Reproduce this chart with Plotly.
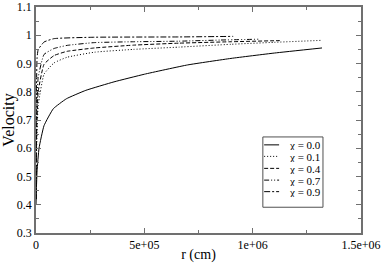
import plotly.graph_objects as go

# chi = 0.0
r_00 = [0, 2e3, 5e3, 1.4e4, 3.7e4, 8e4, 1.4e5, 2.3e5, 3.6e5, 5e5, 7e5, 9e5, 1.1e6, 1.32e6]
v_00 = [0.40, 0.46, 0.52, 0.60, 0.68, 0.74, 0.775, 0.805, 0.835, 0.862, 0.895, 0.918, 0.937, 0.955]
# chi = 0.1
r_01 = [0, 3e3, 1e4, 3.7e4, 8.3e4, 1.43e5, 2.7e5, 4.5e5, 6.6e5, 9e5, 1.1e6, 1.32e6]
v_01 = [0.42, 0.60, 0.75, 0.862, 0.902, 0.922, 0.940, 0.950, 0.958, 0.968, 0.975, 0.982]
# chi = 0.4
r_04 = [0, 3e3, 1e4, 3.7e4, 8.3e4, 1.43e5, 2.7e5, 4.5e5, 6.6e5, 9e5, 1.125e6]
v_04 = [0.42, 0.65, 0.80, 0.897, 0.928, 0.943, 0.955, 0.965, 0.972, 0.977, 0.981]
# chi = 0.7
r_07 = [0, 3e3, 1e4, 3.7e4, 8.3e4, 1.43e5, 2.7e5, 4.5e5, 6.6e5, 8.5e5, 1.03e6]
v_07 = [0.42, 0.70, 0.85, 0.932, 0.953, 0.964, 0.974, 0.977, 0.979, 0.983, 0.986]
# chi = 0.9
r_09 = [0, 2e3, 5e3, 1e4, 3.7e4, 8.3e4, 2.7e5, 6.6e5, 9.1e5]
v_09 = [0.42, 0.80, 0.92, 0.949, 0.976, 0.988, 0.993, 0.994, 0.996]

series_names = ["χ = 0.0", "χ = 0.1", "χ = 0.4", "χ = 0.7", "χ = 0.9"]
x_tickvals = [0, 5e5, 1e6, 1.5e6]
x_ticktext = ["0", "5e+05", "1e+06", "1.5e+06"]
y_tickvals = [0.3, 0.4, 0.5, 0.6, 0.7, 0.8, 0.9, 1.0, 1.1]
y_ticktext = ["0.3", "0.4", "0.5", "0.6", "0.7", "0.8", "0.9", "1", "1.1"]

data = [(r_00, v_00), (r_01, v_01), (r_04, v_04), (r_07, v_07), (r_09, v_09)]
dashes = ["solid", "1px,2px", "4px,2px", "5px,2px,1px,2px,1px,2px", "6px,2px,2px,2px"]

SERIF = "Liberation Serif, Times New Roman, serif"

fig = go.Figure()
for (rx, vy), name, d in zip(data, series_names, dashes):
    fig.add_trace(go.Scatter(x=rx, y=vy, mode="lines", name=name, showlegend=False,
                             line=dict(color="black", width=1, dash=d, shape="spline", smoothing=0.4)))

axis_common = dict(showline=True, linecolor="#707070", linewidth=1.5, mirror="allticks",
                   ticks="inside", ticklen=5, tickcolor="#707070", showgrid=False, zeroline=False,
                   automargin=False, ticklabeloverflow="allow",
                   tickfont=dict(family=SERIF, size=12, color="black"))

fig.update_xaxes(range=[0, 1.5e6], tickvals=x_tickvals, ticktext=x_ticktext,
                 minor=dict(dtick=2.5e5, ticks="inside", ticklen=3, tickcolor="#707070"),
                 title=dict(text="r (cm)", font=dict(family=SERIF, size=14, color="black"), standoff=2),
                 **axis_common)
fig.update_yaxes(range=[0.3, 1.1], tickvals=y_tickvals, ticktext=y_ticktext,
                 minor=dict(dtick=0.05, ticks="inside", ticklen=3, tickcolor="#707070"),
                 title=dict(text="Velocity", font=dict(family=SERIF, size=16, color="black"), standoff=2),
                 **axis_common)

# legend box drawn in paper coordinates
lx0, lx1, ly_top, ly_bot = 0.698, 0.883, 0.425, 0.114
fig.add_shape(type="rect", xref="paper", yref="paper", x0=lx0, x1=lx1, y0=ly_bot, y1=ly_top,
              line=dict(color="#505050", width=1), fillcolor="white", layer="above")
entry_y = [0.390, 0.339, 0.286, 0.234, 0.183]
for name, d, ey in zip(series_names, dashes, entry_y):
    fig.add_shape(type="line", xref="paper", yref="paper", x0=0.702, x1=0.748, y0=ey, y1=ey,
                  line=dict(color="black", width=1, dash=d), layer="above")
    fig.add_annotation(xref="paper", yref="paper", x=0.771, y=ey, xanchor="left", yanchor="middle",
                       text=name, showarrow=False, height=11,
                       font=dict(family=SERIF, size=11, color="black"))

fig.update_layout(width=381, height=263, margin=dict(l=36, r=20, t=7, b=30),
                  plot_bgcolor="white", paper_bgcolor="white", showlegend=False,
                  font=dict(family=SERIF))

fig.write_html("out.html", config={"displayModeBar": False},
               post_script="document.body.style.margin='0';document.body.style.overflow='hidden';")
